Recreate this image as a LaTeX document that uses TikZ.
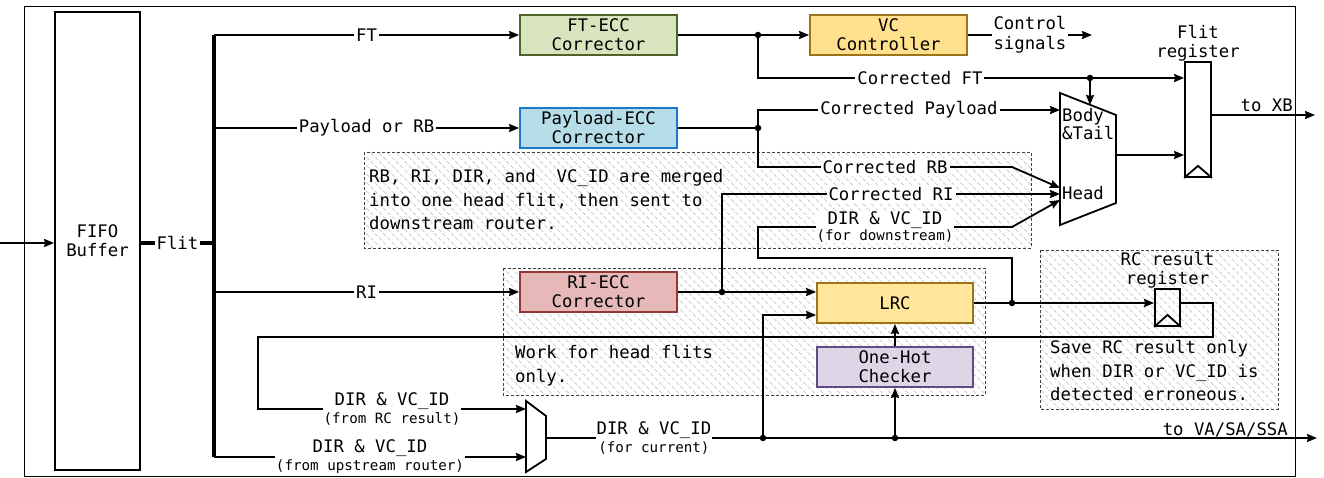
\documentclass[tikz,border=0pt]{standalone}
\usepackage{fontspec}
\setmainfont{DejaVu Sans Mono}
\usetikzlibrary{arrows.meta,patterns.meta}

\definecolor{ftfill}{HTML}{D7E4BD}
\definecolor{ftdraw}{HTML}{4F6228}
\definecolor{plfill}{HTML}{B7DEE8}
\definecolor{pldraw}{HTML}{1F77C9}
\definecolor{vcfill}{HTML}{FFE08C}
\definecolor{vcdraw}{HTML}{9C7418}
\definecolor{lrcfill}{HTML}{FFE69B}
\definecolor{rifill}{HTML}{E6B8B7}
\definecolor{ridraw}{HTML}{953735}
\definecolor{ohfill}{HTML}{DDD6E6}
\definecolor{ohdraw}{HTML}{5F4B86}

\newcommand{\txtsize}{\fontsize{17.3}{19}\selectfont}
\newcommand{\subtxt}{\fontsize{14.2}{18}\selectfont}

\tikzset{
  wire/.style={line width=1.8pt},
  block/.style={draw, line width=1.8pt, minimum width=157pt, minimum height=40pt,
    inner sep=0pt, align=center, font=\txtsize},
  reg/.style={draw, line width=1.8pt, inner sep=0pt},
  lbl/.style={fill=white, inner sep=2pt, font=\txtsize},
  lbltwo/.style={fill=white, inner sep=1pt, align=center, font=\fontsize{17.3}{18}\selectfont},
  note/.style={align=left, inner sep=0pt, font=\fontsize{17.3}{23.7}\selectfont},
  region/.style={draw=black!75, line width=0.8pt, dash pattern=on 3pt off 2pt,
    pattern={Lines[angle=-45,distance=6pt,line width=0.7pt]}, pattern color=black!22},
  dot/.style={circle, fill, inner sep=0pt, minimum size=6.5pt},
  >={Stealth[length=10pt,width=8pt,inset=1pt]}
}

\begin{document}
\begin{tikzpicture}[x=1pt, y=-1pt]
\useasboundingbox (0,0) rectangle (1324,478);
\draw[line width=0.8pt] (24,6) rectangle (1295,476);

% shaded notes behind the wiring
\draw[region] (364,152) rectangle (1031,248);
\draw[region] (503,268) rectangle (985,395);
\draw[region] (1040,250) rectangle (1278,409);
\node (notemerge) [note, anchor=north west] at (369,169) {RB, RI, DIR, and\ \ VC\_ID are merged\\into one head flit, then sent to\\downstream router.};
\node (notehead) [note, anchor=north west] at (515,345) {Work for head flits\\only.};
\node (notesave) [note, anchor=north west] at (1050,340) {Save RC result only\\when DIR or VC\_ID is\\detected erroneous.};

% input buffer and flit bus
\node (fifo) [reg, minimum width=85pt, minimum height=458pt, align=center, font=\txtsize] at (97.5,241) {FIFO\\Buffer};
\coordinate (in) at (0,243);
\coordinate (busft) at (214,35);
\coordinate (buspl) at (214,128);
\coordinate (flit) at (214,243);
\coordinate (busri) at (214,292);
\coordinate (busdir) at (214,457);
\draw[->, wire] (in) -- (fifo.west |- in);
\draw[line width=3.2pt] (fifo.east |- flit) -- node[lbl] {Flit} (flit);
\draw[line width=4.2pt] (busft) -- (busdir);

% correctors, controller, route computation
\node (ftecc) [block, fill=ftfill, draw=ftdraw] at (598.5,35) {FT-ECC\\Corrector};
\node (plecc) [block, fill=plfill, draw=pldraw, node distance=93pt, below of=ftecc] {Payload-ECC\\Corrector};
\node (riecc) [block, fill=rifill, draw=ridraw] at (598.5,292) {RI-ECC\\Corrector};
\node (vcctl) [block, fill=vcfill, draw=vcdraw, node distance=290pt, right of=ftecc] {VC\\Controller};
\node (lrc) [block, minimum width=156pt, fill=lrcfill, draw=vcdraw] at (895,303) {LRC};
\node (onehot) [block, minimum width=156pt, fill=ohfill, draw=ohdraw, node distance=64pt, below of=lrc] {One-Hot\\Checker};

% registers
\node (freg) [reg, minimum width=26pt, minimum height=115pt] at (1198,119.5) {};
\draw[wire] (freg.south west) -- ([yshift=12pt]freg.south) -- (freg.south east);
\node (fregname) [anchor=south, inner sep=0pt, align=center, font=\fontsize{17.3}{18.5}\selectfont] at (freg.north) {Flit\\register};
\node (rcreg) [reg, minimum width=25pt, minimum height=37pt] at (1167.5,307.5) {};
\draw[wire] (rcreg.south west) -- ([yshift=12pt]rcreg.south) -- (rcreg.south east);
\node (rcname) [anchor=south, inner sep=0pt, align=center, font=\fontsize{17.3}{18.5}\selectfont] at (rcreg.north) {RC result\\register};

% multiplexers
\draw[wire] (1060,93) -- (1116,115) -- (1116,203) -- (1060,225) -- cycle;
\node (mxbody) [anchor=west, inner sep=0pt, align=left, font=\fontsize{17.3}{18.5}\selectfont] at (1062,124) {Body\\\&Tail};
\node (mxhead) [anchor=west, inner sep=0pt, font=\txtsize] at (1062,193) {Head};
\draw[wire] (526,401) -- (546,416) -- (546,459) -- (526,472) -- cycle;

\coordinate (mxtop) at (1090,105);
\coordinate (mxpl) at (1060,110);
\coordinate (mxrb) at (1060,188);
\coordinate (mxri) at (1060,194);
\coordinate (mxdir) at (1060,200);
\coordinate (mxhout) at (1116,155);
\coordinate (mxrc) at (526,409);
\coordinate (mxup) at (526,457);
\coordinate (mxout) at (546,438);

% junctions and bends
\coordinate (jft) at (758,35);
\coordinate (jpl) at (758,128);
\coordinate (jfreg) at (1090,78);
\coordinate (jri) at (722,292);
\coordinate (jlrc) at (1012,303);
\coordinate (jcur) at (763,438);
\coordinate (jhot) at (895,438);
\coordinate (rbbend) at (1012,167);
\coordinate (dsbend) at (758,258);
\coordinate (dsend) at (1012,227);
\coordinate (fbright) at (1213,337);
\coordinate (fbleft) at (258,409);
\coordinate (ctrl) at (1092,35);
\coordinate (toxb) at (1315,115);
\coordinate (tovsa) at (1317,438);
\coordinate (lrcin1) at ([yshift=11pt]lrc.west);
\coordinate (lrcin2) at ([yshift=-12pt]lrc.west);

% flit type path
\draw[wire,->] (busft) -- node[lbl] {FT} (ftecc);
\draw[wire,->] (ftecc) -- (vcctl);
\draw[wire,->] (vcctl) -- node[lbl, align=left, font=\fontsize{17.3}{20}\selectfont] {Control\\signals} (ctrl);
\draw[wire,->] (jft) |- node[lbl, pos=0.69] {Corrected FT} (freg.west |- jfreg);
\draw[wire,->] (jfreg) -- (mxtop);

% payload path
\draw[wire,->] (buspl) -- node[lbl] {Payload or RB} (plecc);
\draw[wire] (plecc) -- (jpl);
\draw[wire,->] (jpl) |- node[lbl, pos=0.75] {Corrected Payload} (mxpl);
\draw[wire,->] (jpl) |- node[lbl, pos=0.75] {Corrected RB} (rbbend) -- (mxrb);

% route info path
\draw[wire,->] (busri) -- node[lbl] {RI} (riecc);
\draw[wire,->] (riecc) -- (lrcin1);
\draw[wire,->] (jri) |- node[lbl, pos=0.75] {Corrected RI} (mxri);
\draw[wire,->] (onehot) -- (lrc);
\draw[wire,->] (jhot) -- (onehot);
\draw[wire,->] (jcur) |- (lrcin2);
\draw[wire,->] (lrc.east) -- (rcreg.west |- lrc.east);
\draw[wire,->] (jlrc) |- (dsbend) |- node[lbltwo, pos=0.75] {DIR \& VC\_ID\\[-2pt]{\subtxt(for downstream)}} (dsend) -- (mxdir);
\draw[wire,->] (rcreg.east |- lrc.east) -| (fbright) -| (fbleft) -- node[lbltwo] {DIR \& VC\_ID\\{\subtxt(from RC result)}} (mxrc);
\draw[wire,->] (busdir) -- node[lbltwo] {DIR \& VC\_ID\\{\subtxt(from upstream router)}} (mxup);
\draw[wire,->] (mxout) -- node[lbltwo, pos=0.14] {DIR \& VC\_ID\\{\subtxt(for current)}} (tovsa);
\node (vsalbl) [anchor=base east, inner sep=0pt, font=\txtsize] at (1288,435) {to VA/SA/SSA};

% to the crossbar
\draw[wire,->] (mxhout) -- (freg.west |- mxhout);
\draw[wire,->] (freg.east |- toxb) -- (toxb);
\node (xblbl) [anchor=base east, inner sep=0pt, font=\txtsize] at (1293,112) {to XB};

\foreach \j in {jft,jpl,jfreg,jri,jlrc,jcur,jhot}
  \node (dot-\j) [dot] at (\j) {};

\end{tikzpicture}
\end{document}
